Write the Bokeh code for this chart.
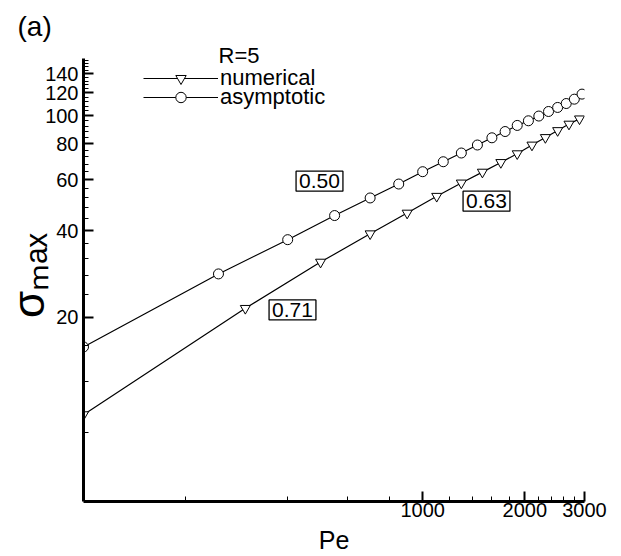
import math
from bokeh.plotting import figure
from bokeh.models import FixedTicker, Label, Legend, LegendItem, Title
from bokeh.embed import file_html
from bokeh.resources import INLINE

# ---- data ----
pe_numerical = [100, 300, 500, 700, 900, 1100, 1300, 1500, 1700, 1900,
                2100, 2300, 2500, 2700, 2900]
sigma_numerical = [9.2, 21.5, 31.1, 39.0, 46.0, 52.6, 58.5, 63.8, 68.9, 73.9,
                   79.2, 84.1, 88.9, 93.6, 97.6]

pe_asymptotic = [100, 250, 400, 550, 700, 850, 1000, 1150, 1300, 1450,
                 1600, 1750, 1900, 2050, 2200, 2350, 2500, 2650, 2800, 2950]
sigma_asymptotic = [15.8, 28.3, 37.2, 45.1, 51.9, 58.0, 64.0, 69.3, 74.3, 79.2,
                    83.9, 88.2, 92.6, 96.1, 99.8, 103.5, 106.9, 110.3, 114.2, 118.9]

x_major_ticks = [1000, 2000, 3000]
x_minor_ticks = [200, 400, 600, 800, 1200, 1400, 1600, 1800, 2200, 2400, 2600, 2800]
y_major_ticks = [20, 40, 60, 80, 100, 120, 140]
y_minor_ticks = [v for v in range(8, 160, 4) if v not in y_major_ticks]

slope_labels = ["0.50", "0.71", "0.63"]

# ---- layout constants ----
W, H = 621, 556
FL, FR, FT, FB = 83, 584, 58, 502
X0, X1 = 100, 3000
Y0, Y1 = 4.6, 158


def px2x(px):
    return X0 * (X1 / X0) ** ((px - FL) / (FR - FL))


def py2y(py):
    return Y0 * (Y1 / Y0) ** ((FB - py) / (FB - FT))


FONT = "Liberation Sans"

p = figure(width=W, height=H, x_axis_type="log", y_axis_type="log",
           x_range=(X0, X1), y_range=(Y0, Y1),
           output_backend="svg", toolbar_location=None,
           min_border_left=FL, min_border_right=W - FR,
           min_border_top=FT, min_border_bottom=H - FB)
p.xgrid.visible = False
p.ygrid.visible = False
p.outline_line_color = None
p.background_fill_color = "white"
p.border_fill_color = "white"

# panel tag "(a)" (outermost title) and legend heading "R=5" (next to frame)
p.title = Title(text="(a)", align="left", offset=17 - FL, standoff=17,
                text_font=FONT, text_font_size="28px",
                text_font_style="normal", text_color="black")
p.add_layout(Title(text="R=5", align="left", offset=218 - FL, standoff=-19,
                   text_font=FONT, text_font_size="22px",
                   text_font_style="normal", text_color="black"), "above")

p.xaxis.ticker = FixedTicker(ticks=x_major_ticks, minor_ticks=x_minor_ticks)
p.yaxis.ticker = FixedTicker(ticks=y_major_ticks, minor_ticks=y_minor_ticks)
p.xaxis.major_label_overrides = {t: str(t) for t in x_major_ticks}
p.yaxis.major_label_overrides = {t: str(t) for t in y_major_ticks}

for ax in (p.xaxis, p.yaxis):
    ax.axis_line_width = 3
    ax.axis_line_color = "black"
    ax.major_tick_in = 10
    ax.major_tick_out = 0
    ax.minor_tick_in = 5
    ax.minor_tick_out = 0
    ax.major_tick_line_width = 2
    ax.minor_tick_line_width = 1
    ax.major_tick_line_color = "black"
    ax.minor_tick_line_color = "black"
    ax.major_label_text_font = FONT
    ax.major_label_text_font_size = "20px"
    ax.major_label_text_color = "black"
    ax.axis_label_text_font = FONT
    ax.axis_label_text_font_style = "normal"
    ax.axis_label_text_color = "black"

p.xaxis.major_label_standoff = 1
p.yaxis.major_label_standoff = 5

p.xaxis.axis_label = "Pe"
p.xaxis.axis_label_text_font_size = "25px"
p.xaxis.axis_label_standoff = 6

p.yaxis.axis_label = "\u2009σₘₐₓ"
p.yaxis.axis_label_text_font_size = "44px"
p.yaxis.axis_label_standoff = -11

# series
l1 = p.line(pe_numerical, sigma_numerical, line_color="black", line_width=1.2)
m1 = p.scatter(pe_numerical, sigma_numerical, marker="inverted_triangle", size=10,
               line_color="black", fill_color="white", line_width=1)
l2 = p.line(pe_asymptotic, sigma_asymptotic, line_color="black", line_width=1.2)
m2 = p.scatter(pe_asymptotic, sigma_asymptotic, marker="circle", size=10,
               line_color="black", fill_color="white", line_width=1)

ROW = 26
for label, rends, cy in [("numerical", [l1, m1], 79), ("asymptotic", [l2, m2], 98)]:
    lg = Legend(items=[LegendItem(label=label, renderers=rends)],
                location=(143 - FL, FB - (cy + ROW / 2)),
                padding=0, margin=0, spacing=0,
                glyph_width=75, glyph_height=ROW, label_height=ROW,
                label_standoff=2, border_line_color=None,
                background_fill_alpha=0,
                label_text_font=FONT, label_text_font_size="22px",
                label_text_color="black")
    p.add_layout(lg, "center")

# boxed slope labels
for txt, (cx, cy) in zip(slope_labels, [(319, 181), (292, 310), (486, 201)]):
    p.add_layout(Label(x=px2x(cx), y=py2y(cy), text=txt, text_font=FONT,
                       text_font_size="21px", text_align="center",
                       text_baseline="middle", text_color="black",
                       padding=3, border_line_color="black",
                       border_line_width=1.3, background_fill_color="white"))

open("out.html", "w").write(file_html(p, INLINE))
